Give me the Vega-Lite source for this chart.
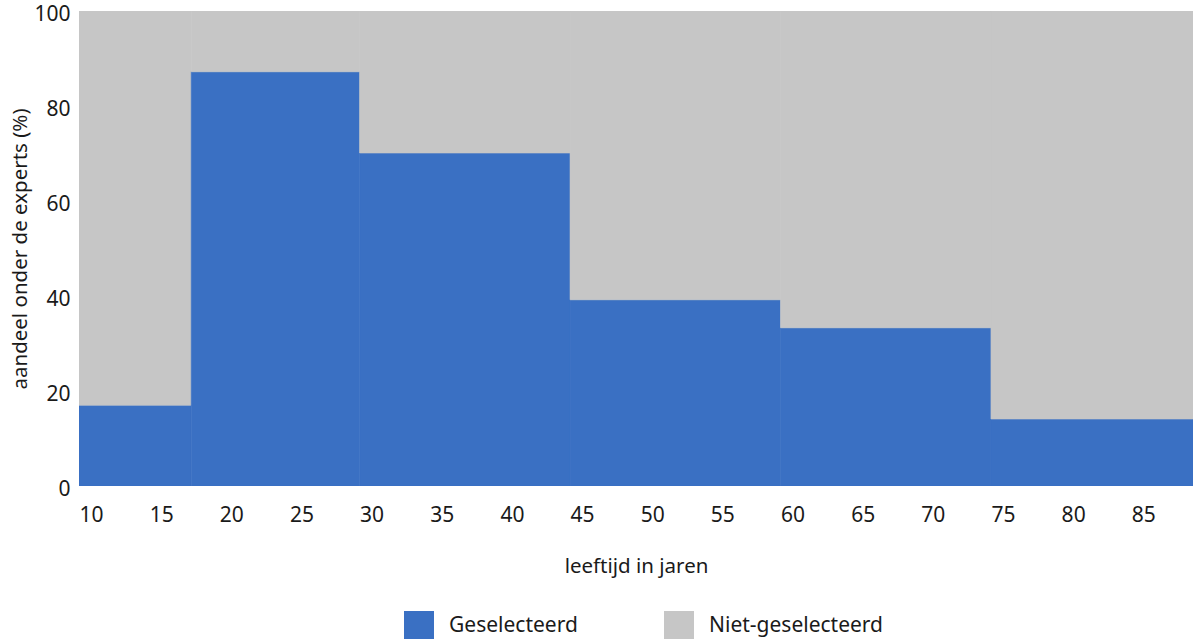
{
  "$schema": "https://vega.github.io/schema/vega-lite/v6.json",
  "autosize": {"type": "none"},
  "width": 1114,
  "height": 475,
  "padding": {"left": 79, "top": 11, "right": 0, "bottom": 153},
  "background": "white",
  "config": {
    "view": {"stroke": null},
    "font": "Noto Sans",
    "axis": {"grid": false, "domain": false, "ticks": false, "labelColor": "#1a1a1a", "titleColor": "#1a1a1a", "labelFontSize": 21, "titleFontSize": 20.5, "titleFontWeight": "normal"},
    "legend": {"labelFontSize": 21, "labelColor": "#1a1a1a", "labelLimit": 400}
  },
  "data": {
    "values": [
      {"start": 10, "end": 18, "category": "Geselecteerd", "value": 17},
      {"start": 10, "end": 18, "category": "Niet-geselecteerd", "value": 83},
      {"start": 18, "end": 30, "category": "Geselecteerd", "value": 87.2},
      {"start": 18, "end": 30, "category": "Niet-geselecteerd", "value": 12.8},
      {"start": 30, "end": 45, "category": "Geselecteerd", "value": 70.1},
      {"start": 30, "end": 45, "category": "Niet-geselecteerd", "value": 29.9},
      {"start": 45, "end": 60, "category": "Geselecteerd", "value": 39.2},
      {"start": 45, "end": 60, "category": "Niet-geselecteerd", "value": 60.8},
      {"start": 60, "end": 75, "category": "Geselecteerd", "value": 33.3},
      {"start": 60, "end": 75, "category": "Niet-geselecteerd", "value": 66.7},
      {"start": 75, "end": 89.4, "category": "Geselecteerd", "value": 14.1},
      {"start": 75, "end": 89.4, "category": "Niet-geselecteerd", "value": 85.9}
    ]
  },
  "transform": [
    {"stack": "value", "groupby": ["start"], "sort": [{"field": "category", "order": "ascending"}], "as": ["y0", "y1"]}
  ],
  "mark": {"type": "rect", "clip": true, "strokeWidth": 0.6},
  "encoding": {
    "x": {"field": "start", "type": "quantitative", "scale": {"domain": [10, 89.4], "nice": false, "zero": false},
      "axis": {"values": [10, 15, 20, 25, 30, 35, 40, 45, 50, 55, 60, 65, 70, 75, 80, 85], "labelAlign": "left", "labelPadding": 18, "title": "leeftijd in jaren", "titlePadding": 31}},
    "x2": {"field": "end"},
    "y": {"field": "y0", "type": "quantitative", "scale": {"domain": [0, 100], "nice": false},
      "axis": {"values": [0, 20, 40, 60, 80, 100], "labelPadding": 9, "labelOffset": 3, "title": "aandeel onder de experts (%)", "titlePadding": 3}},
    "y2": {"field": "y1"},
    "color": {"field": "category", "type": "nominal",
      "scale": {"domain": ["Geselecteerd", "Niet-geselecteerd"], "range": ["#3a70c3", "#c6c6c6"]},
      "legend": {"title": null, "orient": "none", "direction": "horizontal", "legendX": 325, "legendY": 600, "symbolType": "square", "symbolSize": 900, "symbolStrokeWidth": 0, "symbolOpacity": 1, "labelOffset": 15, "columnPadding": 86}},
    "stroke": {"field": "category", "type": "nominal",
      "scale": {"domain": ["Geselecteerd", "Niet-geselecteerd"], "range": ["#3a70c3", "#c6c6c6"]},
      "legend": null}
  }
}
